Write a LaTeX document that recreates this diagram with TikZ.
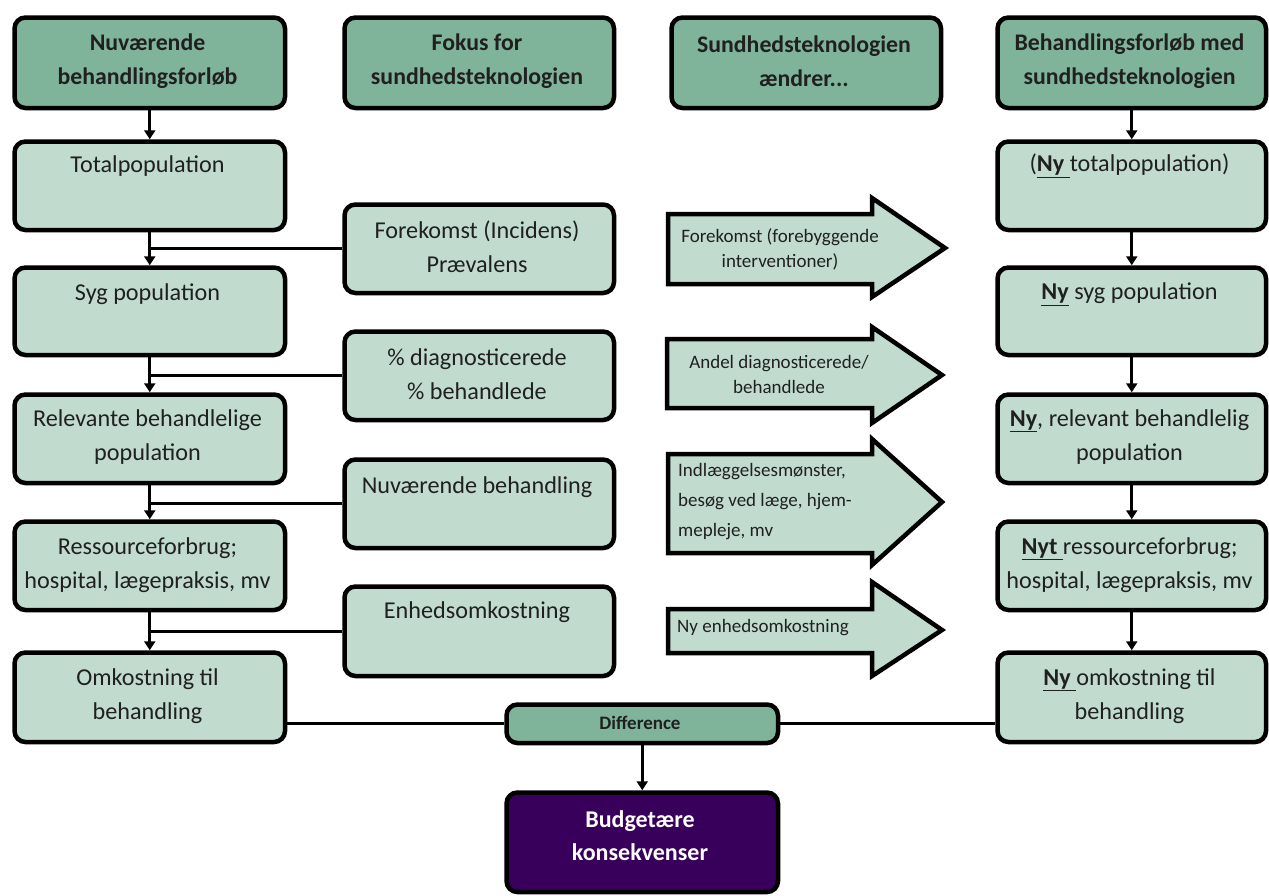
\documentclass[tikz,border=0pt]{standalone}
\usepackage{fontspec}
\setmainfont{Carlito}
\usetikzlibrary{arrows.meta}
\definecolor{hdr}{RGB}{127,180,154}
\definecolor{lt}{RGB}{193,220,206}
\definecolor{purp}{RGB}{56,0,90}
\definecolor{ink}{RGB}{32,32,32}
\newcommand\mybox[6]{%
  \node[#1, minimum width={#5-#3-4.5}, minimum height={#6-#4-4.5}] (#2) at ({#3+2.25},{#4+2.25}) {};}
\newcommand\nyu[1]{\underline{\textbf{#1}}}
\begin{document}
\begin{tikzpicture}[x=1pt,y=-1pt,
  box/.style={draw=black, line width=4.5pt, rounded corners=11pt, fill=lt, anchor=north west, inner sep=0pt},
  hbox/.style={box, fill=hdr},
  pbox/.style={box, fill=purp},
  btxt/.style={font=\fontsize{24.2}{34}\selectfont, align=center, text=ink, inner sep=0pt},
  htxt/.style={font=\fontsize{23.8}{34}\selectfont\bfseries, align=center, text=ink, inner sep=0pt},
  atxt/.style={font=\fontsize{19}{25}\selectfont, align=center, text=ink, inner sep=0pt},
  conn/.style={line width=2.8pt},
  arr/.style={conn, -{Triangle[width=11pt,length=9pt]}},
  bigarr/.style={draw=black, fill=lt, line width=4.5pt, line join=miter},
]
\useasboundingbox (0,0) rectangle (1269,895);

% column 1
\mybox{hbox}{h1}{10}{13}{285}{108}
\mybox{box}{tot}{10}{137}{285}{230}
\mybox{box}{syg}{10}{263}{285}{355}
\mybox{box}{rel}{10}{390}{285}{483}
\mybox{box}{res}{10}{517}{285}{610}
\mybox{box}{omk}{10}{648}{285}{742}
% column 2
\mybox{hbox}{h2}{340}{13}{614}{108}
\mybox{box}{f1}{340}{200}{614}{293}
\mybox{box}{f2}{340}{327}{614}{420}
\mybox{box}{f3}{340}{455}{614}{548}
\mybox{box}{f4}{340}{582}{614}{676}
% column 3
\mybox{hbox}{h3}{667}{13}{941}{108}
% column 4
\mybox{hbox}{h4}{993}{13}{1266}{108}
\mybox{box}{n1}{993}{137}{1266}{230}
\mybox{box}{n2}{993}{263}{1266}{355}
\mybox{box}{n3}{993}{390}{1266}{483}
\mybox{box}{n4}{993}{517}{1266}{610}
\mybox{box}{n5}{993}{648}{1266}{742}
% bottom
\mybox{hbox}{diff}{502}{700}{778}{743}
\mybox{pbox}{bud}{502}{788}{778}{892}

% texts
\node[htxt] (h1t) at (147.5,61) {Nuværende\\behandlingsforløb};
\node[htxt] (h2t) at (477,61) {Fokus for\\sundhedsteknologien};
\node[htxt] (h3t) at (804,61) {Sundhedsteknologien\\ændrer...};
\node[htxt] (h4t) at (1129.5,61) {Behandlingsforløb med\\sundhedsteknologien};

\node[btxt] (tott) at (147.5,166) {Totalpopulation};
\node[btxt] (sygt) at (147.5,294) {Syg population};
\node[btxt] (relt) at (147.5,437) {Relevante behandlelige\\population};
\node[btxt] (rest) at (147.5,565) {Ressourceforbrug;\\hospital, lægepraksis, mv};
\node[btxt] (omkt) at (147.5,696) {Omkostning til\\behandling};

\node[btxt] (f1t) at (477,247) {Forekomst (Incidens)\\Prævalens};
\node[btxt] (f2t) at (477,374) {\% diagnosticerede\\\% behandlede};
\node[btxt] (f3t) at (477,487) {Nuværende behandling};
\node[btxt] (f4t) at (477,612) {Enhedsomkostning};

\node[btxt] (n1t) at (1129.5,166) {(\nyu{Ny\ }totalpopulation)};
\node[btxt] (n2t) at (1129.5,294) {\nyu{Ny} syg population};
\node[btxt] (n3t) at (1129.5,437) {\nyu{Ny}, relevant behandlelig\\population};
\node[btxt] (n4t) at (1129.5,565) {\nyu{Nyt\ }ressourceforbrug;\\hospital, lægepraksis, mv};
\node[btxt] (n5t) at (1129.5,696) {\nyu{Ny\ }omkostning til\\behandling};

\node[htxt, font=\fontsize{19}{22}\selectfont\bfseries] (difft) at (640,723) {Difference};
\node[htxt, text=white, font=\fontsize{24}{33}\selectfont\bfseries] (budt) at (640,836) {Budgetære\\konsekvenser};

% big arrows
\draw[bigarr] (668,214) -- (872,214) -- (872,198) -- (945,248) -- (872,297) -- (872,284) -- (668,284) -- cycle;
\draw[bigarr] (667,339) -- (872,339) -- (872,327) -- (942,375) -- (872,423) -- (872,408) -- (667,408) -- cycle;
\draw[bigarr] (668,454) -- (872,454) -- (872,439) -- (942,502) -- (872,565) -- (872,553) -- (668,553) -- cycle;
\draw[bigarr] (668,609) -- (872,609) -- (872,582) -- (942,630) -- (872,676) -- (872,653) -- (668,653) -- cycle;
\node[atxt] (a1t) at (780,249.5) {Forekomst (forebyggende\\interventioner)};
\node[atxt] (a2t) at (779,374) {Andel diagnosticerede/\\behandlede};
\node[atxt, align=left, anchor=west, font=\fontsize{19}{30}\selectfont] (a3t) at (678,502) {Indlæggelsesmønster,\\besøg ved læge, hjem-\\mepleje, mv};
\node[atxt, anchor=west] (a4t) at (677,628) {Ny enhedsomkostning};

% connectors column 1
\draw[arr] (h1) -- (tot);
\draw[arr] (tot) -- (syg);
\draw[arr] (syg) -- (rel);
\draw[arr] (rel) -- (res);
\draw[arr] (res) -- (omk);
\draw[conn] (f1.west) -- (f1.west -| tot.south);
\draw[conn] (f2.west) -- (f2.west -| syg.south);
\draw[conn] (f3.west) -- (f3.west -| rel.south);
\draw[conn] (f4.west) -- (f4.west -| res.south);
% connectors column 4
\draw[arr] (h4) -- (n1);
\draw[arr] (n1) -- (n2);
\draw[arr] (n2) -- (n3);
\draw[arr] (n3) -- (n4);
\draw[arr] (n4) -- (n5);
% bottom
\draw[conn] (diff.west) -- (diff.west -| omk.east);
\draw[conn] (diff.east) -- (diff.east -| n5.west);
\draw[arr] (diff) -- (bud);
\end{tikzpicture}
\end{document}
